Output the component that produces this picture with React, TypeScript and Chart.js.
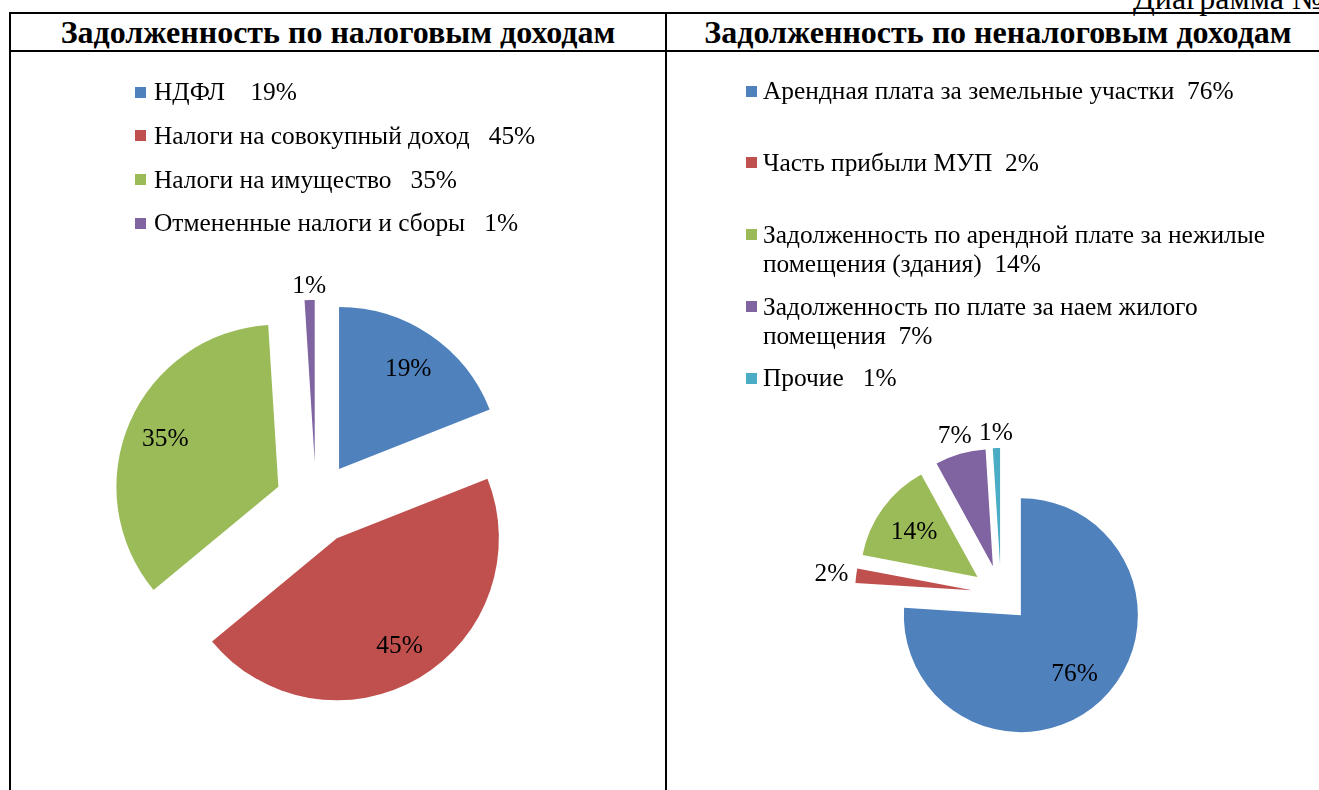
import React, { useEffect, useRef } from 'react';
import { Chart, registerables } from 'chart.js';

Chart.register(...registerables);

// ---------- data ----------
const taxTitle = 'Задолженность по налоговым доходам';
const taxLegendLabels = [
  'НДФЛ    19%',
  'Налоги на совокупный доход   45%',
  'Налоги на имущество   35%',
  'Отмененные налоги и сборы   1%',
];
const taxValues = [19, 45, 35, 1];

const nonTaxTitle = 'Задолженность по неналоговым доходам';
const nonTaxLegendLabels = [
  'Арендная плата за земельные участки  76%',
  'Часть прибыли МУП  2%',
  'Задолженность по арендной плате за нежилые помещения (здания)  14%',
  'Задолженность по плате за наем жилого помещения  7%',
  'Прочие   1%',
];
const nonTaxValues = [76, 2, 14, 7, 1];

const caption = 'Диаграмма №';

const palette = ['#4F81BD', '#C0504D', '#9BBB59', '#8064A2', '#4BACC6'];

const SERIF = '"Liberation Serif", "Times New Roman", serif';

type PieCfg = {
  width: number;
  height: number;
  padding: { left: number; right: number; top: number; bottom: number };
  radius: number;
  explode: number;
  labelFrac: number;
  labelGap: number;
  fontSize: number;
  legend: {
    markerX: number;
    textX: number;
    top: number;
    spacing: number;
    lineHeight: number;
    maxWidth: number;
    marker: number;
  };
};

function wrapText(ctx: CanvasRenderingContext2D, text: string, maxW: number): string[] {
  const tokens = text.split(' ');
  const lines: string[] = [];
  let cur = tokens[0];
  for (let i = 1; i < tokens.length; i++) {
    const t = tokens[i];
    const cand = cur + ' ' + t;
    if (t !== '' && cur.trim() !== '' && ctx.measureText(cand).width > maxW) {
      lines.push(cur.replace(/\s+$/, ''));
      cur = t;
    } else {
      cur = cand;
    }
  }
  lines.push(cur);
  return lines;
}

function makePlugin(cfg: PieCfg, legendLabels: string[]) {
  return {
    id: 'pieExtras',
    // Excel-style explosion: every slice is moved outward along its mid-angle by the same distance,
    // keeping its full angle and radius.
    beforeDatasetDraw(chart: any, args: any) {
      const ctx: CanvasRenderingContext2D = chart.ctx;
      args.meta.data.forEach((arc: any) => {
        const mid = (arc.startAngle + arc.endAngle) / 2;
        ctx.save();
        ctx.translate(Math.cos(mid) * cfg.explode, Math.sin(mid) * cfg.explode);
        arc.draw(ctx);
        ctx.restore();
      });
      return false;
    },
    afterDatasetsDraw(chart: any) {
      const ctx: CanvasRenderingContext2D = chart.ctx;
      const meta = chart.getDatasetMeta(0);
      const data = chart.data.datasets[0].data as number[];
      const colors = chart.data.datasets[0].backgroundColor as string[];
      const total = data.reduce((a, b) => a + b, 0);
      const fs = cfg.fontSize;
      ctx.save();
      ctx.font = `${fs}px ${SERIF}`;
      ctx.fillStyle = '#000';
      ctx.textAlign = 'center';
      ctx.textBaseline = 'alphabetic';
      meta.data.forEach((arc: any, i: number) => {
        const R = arc.outerRadius;
        const mid = (arc.startAngle + arc.endAngle) / 2;
        const cx = Math.cos(mid);
        const sy = Math.sin(mid);
        const ax = arc.x + cx * cfg.explode;
        const ay = arc.y + sy * cfg.explode;
        const frac = data[i] / total;
        const text = Math.round(frac * 100) + '%';
        let lx: number;
        let ly: number;
        if (frac >= 0.1) {
          lx = ax + cx * R * cfg.labelFrac;
          ly = ay + sy * R * cfg.labelFrac;
        } else {
          const w = ctx.measureText(text).width;
          const h = fs * 0.7;
          const d = R + cfg.labelGap + (Math.abs(cx) * w) / 2 + (Math.abs(sy) * h) / 2;
          lx = ax + cx * d;
          ly = ay + sy * d;
        }
        ctx.fillText(text, lx, ly + fs * 0.33);
      });

      // legend
      const lg = cfg.legend;
      ctx.textAlign = 'left';
      legendLabels.forEach((label, i) => {
        const y0 = lg.top + i * lg.spacing;
        ctx.fillStyle = colors[i];
        ctx.fillRect(lg.markerX, Math.round(y0 - lg.marker / 2), lg.marker, lg.marker);
        ctx.fillStyle = '#000';
        const lines = wrapText(ctx, label, lg.maxWidth);
        lines.forEach((ln, k) => {
          ctx.fillText(ln, lg.textX, y0 + fs * 0.33 + k * lg.lineHeight);
        });
      });
      ctx.restore();
    },
  };
}

function PieChart({ values, legendLabels, cfg, style }: { values: number[]; legendLabels: string[]; cfg: PieCfg; style: React.CSSProperties }) {
  const ref = useRef<HTMLCanvasElement | null>(null);
  useEffect(() => {
    if (!ref.current) return;
    const chart = new Chart(ref.current, {
      type: 'pie',
      data: {
        labels: legendLabels,
        datasets: [
          {
            data: values,
            backgroundColor: palette.slice(0, values.length),
            borderWidth: 0,
          } as any,
        ],
      },
      options: {
        responsive: false,
        maintainAspectRatio: false,
        animation: false,
        devicePixelRatio: 1,
        radius: cfg.radius,
        layout: { padding: cfg.padding },
        plugins: {
          legend: { display: false },
          tooltip: { enabled: false },
          title: { display: false },
        },
        events: [],
      } as any,
      plugins: [makePlugin(cfg, legendLabels)],
    });
    return () => chart.destroy();
  }, []);
  return <canvas ref={ref} width={cfg.width} height={cfg.height} style={{ position: 'absolute', ...style }} />;
}

const FS = 25.4;

const leftCfg: PieCfg = {
  width: 654,
  height: 738,
  padding: { left: 0, right: 44, top: 164, bottom: 0 },
  radius: 162,
  explode: 41,
  labelFrac: 0.76,
  labelGap: 6,
  fontSize: FS,
  legend: { markerX: 124, textX: 143, top: 40, spacing: 43.7, lineHeight: 29, maxWidth: 530, marker: 11 },
};

const rightCfg: PieCfg = {
  width: 652,
  height: 738,
  padding: { left: 16, right: 0, top: 346, bottom: 0 },
  radius: 117,
  explode: 29,
  labelFrac: 0.67,
  labelGap: 7,
  fontSize: FS,
  legend: { markerX: 79, textX: 96, top: 39, spacing: 71.75, lineHeight: 29, maxWidth: 530, marker: 11 },
};

const line = (l: number, t: number, w: number, h: number): React.CSSProperties => ({
  position: 'absolute',
  left: l,
  top: t,
  width: w,
  height: h,
  background: '#000',
});

export default function App() {
  const titleStyle: React.CSSProperties = {
    position: 'absolute',
    top: 14,
    height: 36,
    lineHeight: '36px',
    textAlign: 'center',
    fontFamily: SERIF,
    fontWeight: 'bold',
    fontSize: 32,
    whiteSpace: 'nowrap',
    color: '#000',
  };
  return (
    <div style={{ position: 'fixed', left: 0, top: 0, width: 1319, height: 790, overflow: 'hidden', background: '#fff' }}>
      <div
        style={{
          position: 'absolute',
          left: 1133,
          top: -18,
          fontFamily: SERIF,
          fontSize: 32,
          lineHeight: '32px',
          whiteSpace: 'nowrap',
          color: '#000',
        }}
      >
        {caption}
      </div>
      <div style={line(9, 12, 1310, 2)} />
      <div style={line(9, 12, 2, 778)} />
      <div style={line(665, 12, 2, 778)} />
      <div style={line(9, 50, 1310, 2)} />
      <div style={{ ...titleStyle, left: 11, width: 654 }}>{taxTitle}</div>
      <div style={{ ...titleStyle, left: 667, width: 662 }}>{nonTaxTitle}</div>
      <PieChart values={taxValues} legendLabels={taxLegendLabels} cfg={leftCfg} style={{ left: 11, top: 52 }} />
      <PieChart values={nonTaxValues} legendLabels={nonTaxLegendLabels} cfg={rightCfg} style={{ left: 667, top: 52 }} />
    </div>
  );
}
